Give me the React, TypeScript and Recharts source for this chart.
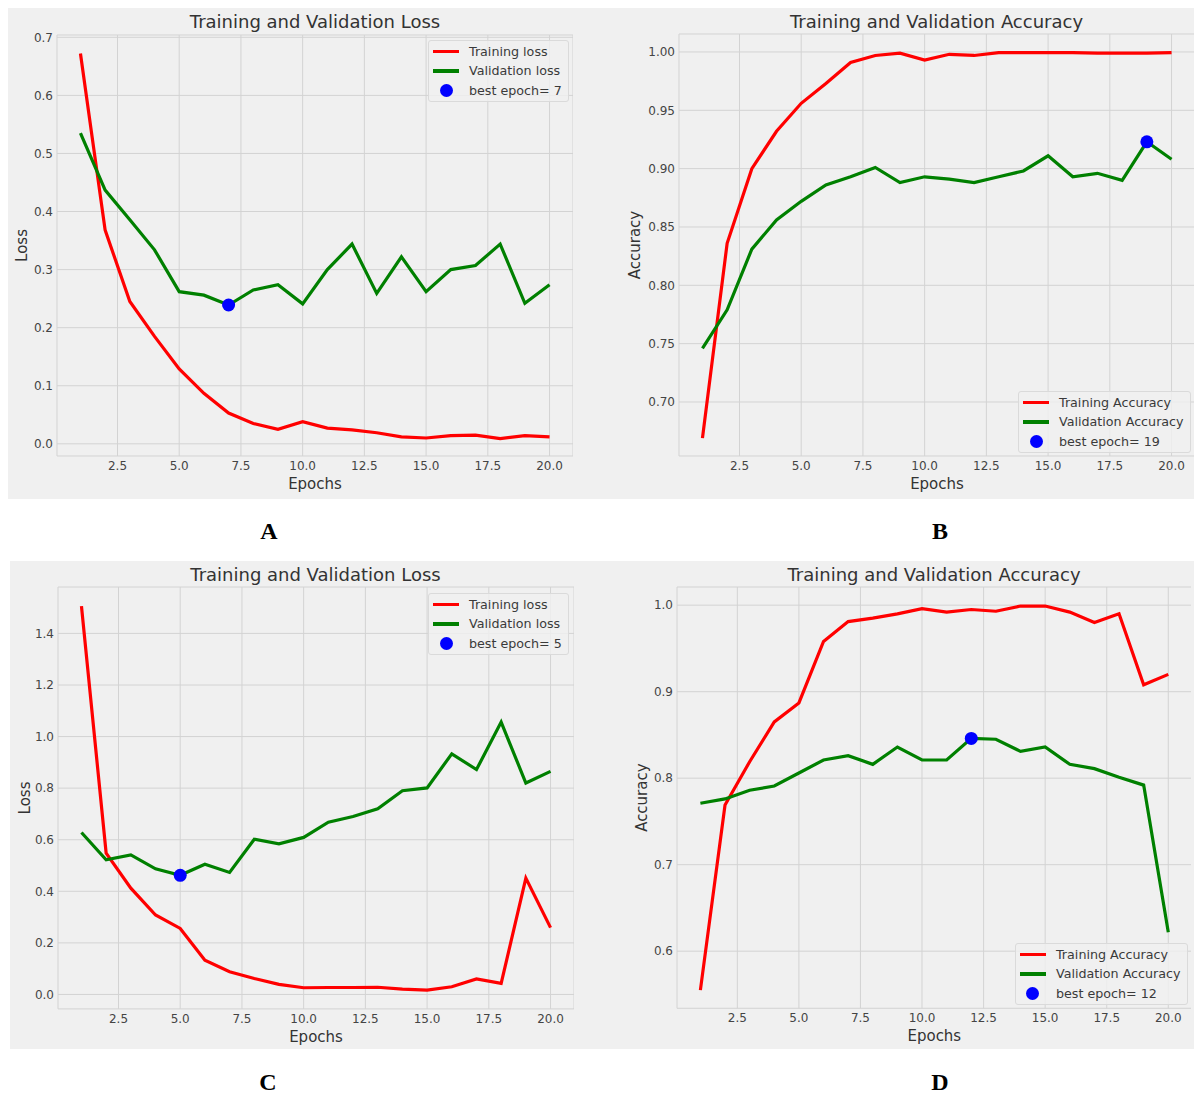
import React from 'react';
import { ComposedChart, Line, Scatter, XAxis, YAxis, CartesianGrid, Legend } from 'recharts';

const epochs = [1, 2, 3, 4, 5, 6, 7, 8, 9, 10, 11, 12, 13, 14, 15, 16, 17, 18, 19, 20];
const epochTicks = [2.5, 5, 7.5, 10, 12.5, 15, 17.5, 20];

// A - loss, first model
const trainLossA = [0.672, 0.368, 0.245, 0.185, 0.129, 0.087, 0.053, 0.035, 0.025, 0.038, 0.027, 0.024, 0.019, 0.012, 0.010, 0.014, 0.015, 0.009, 0.014, 0.012];
const valLossA = [0.535, 0.437, 0.386, 0.334, 0.262, 0.256, 0.239, 0.265, 0.274, 0.241, 0.300, 0.344, 0.259, 0.322, 0.262, 0.300, 0.307, 0.344, 0.242, 0.274];
const bestEpochA = 7;
const lossTicksA = [0, 0.1, 0.2, 0.3, 0.4, 0.5, 0.6, 0.7];

// B - accuracy, first model
const trainAccB = [0.669, 0.836, 0.900, 0.932, 0.956, 0.973, 0.991, 0.997, 0.999, 0.993, 0.998, 0.997, 0.9995, 0.9995, 0.9995, 0.9995, 0.999, 0.999, 0.999, 0.9995];
const valAccB = [0.746, 0.779, 0.831, 0.856, 0.872, 0.886, 0.893, 0.901, 0.888, 0.893, 0.891, 0.888, 0.893, 0.898, 0.911, 0.893, 0.896, 0.890, 0.923, 0.908];
const bestEpochB = 19;
const accTicksB = [0.7, 0.75, 0.8, 0.85, 0.9, 0.95, 1.0];

// C - loss, second model
const trainLossC = [1.506, 0.548, 0.412, 0.308, 0.256, 0.133, 0.088, 0.062, 0.039, 0.026, 0.027, 0.027, 0.028, 0.021, 0.017, 0.030, 0.060, 0.043, 0.451, 0.259];
const valLossC = [0.628, 0.522, 0.541, 0.487, 0.462, 0.505, 0.473, 0.602, 0.584, 0.609, 0.668, 0.690, 0.720, 0.790, 0.801, 0.933, 0.872, 1.056, 0.820, 0.865];
const bestEpochC = 5;
const lossTicksC = [0, 0.2, 0.4, 0.6, 0.8, 1.0, 1.2, 1.4];

// D - accuracy, second model
const trainAccD = [0.555, 0.769, 0.819, 0.865, 0.887, 0.958, 0.981, 0.985, 0.990, 0.996, 0.992, 0.995, 0.993, 0.999, 0.999, 0.992, 0.980, 0.990, 0.908, 0.920];
const valAccD = [0.771, 0.776, 0.786, 0.791, 0.806, 0.821, 0.826, 0.816, 0.836, 0.821, 0.821, 0.846, 0.845, 0.831, 0.836, 0.816, 0.811, 0.801, 0.792, 0.622];
const bestEpochD = 12;
const accTicksD = [0.6, 0.7, 0.8, 0.9, 1.0];

const FONT = '"DejaVu Sans", Verdana, sans-serif';
const Y_AXIS_W = 56;
const X_AXIS_H = 44;
const TOP_PAD = 12; // room for the top tick label

interface PlotBox {
  left: number;
  top: number;
  right: number;
  bottom: number;
}

interface PanelProps {
  plot: PlotBox;
  yDomain: [number, number];
  yTicks: number[];
  yDigits: number;
  train: number[];
  val: number[];
  bestEpoch: number;
  names: [string, string];
  title: string;
  yLabel: string;
  titleY: number;
  yLabelX: number;
  xLabelY: number;
  legendPos: { left: number; top: number };
}

const LegendBox = ({ payload, order }: any) => {
  const items = [...(payload || [])].sort(
    (a: any, b: any) => order.indexOf(a.value) - order.indexOf(b.value)
  );
  return (
    <div
      style={{
        background: 'rgba(240,240,240,0.8)',
        border: '1px solid #dadada',
        borderRadius: 3,
        padding: '1px 6px 1px 4px',
        fontFamily: FONT,
        fontSize: 12.7,
        color: '#3a3a3a',
        whiteSpace: 'nowrap',
      }}
    >
      {items.map((it: any) => (
        <div key={it.value} style={{ display: 'flex', alignItems: 'center', height: 19.3 }}>
          <span style={{ width: 26, display: 'flex', justifyContent: 'center', alignItems: 'center' }}>
            {it.type === 'circle' ? (
              <span style={{ width: 13, height: 13, borderRadius: '50%', background: it.color }} />
            ) : (
              <span style={{ width: 26, height: 3.2, background: it.color }} />
            )}
          </span>
          <span style={{ marginLeft: 10 }}>{it.value}</span>
        </div>
      ))}
    </div>
  );
};

const Panel: React.FC<PanelProps> = ({
  plot,
  yDomain,
  yTicks,
  yDigits,
  train,
  val,
  bestEpoch,
  names,
  title,
  yLabel,
  titleY,
  yLabelX,
  xLabelY,
  legendPos,
}) => {
  const chartLeft = plot.left - Y_AXIS_W;
  const chartTop = plot.top - TOP_PAD;
  const width = plot.right - plot.left + Y_AXIS_W;
  const height = plot.bottom - plot.top + X_AXIS_H + TOP_PAD;
  const rows = epochs.map((e, i) => ({ epoch: e, train: train[i], val: val[i] }));
  const best = [{ epoch: bestEpoch, val: val[bestEpoch - 1] }];
  const bestName = `best epoch= ${bestEpoch}`;
  const centerX = (plot.left + plot.right) / 2;

  return (
    <>
      <div
        style={{
          position: 'absolute',
          left: centerX - 300,
          top: titleY - 11,
          width: 600,
          lineHeight: '22px',
          textAlign: 'center',
          fontFamily: FONT,
          fontSize: 18,
          color: '#333',
        }}
      >
        {title}
      </div>
      <div style={{ position: 'absolute', left: chartLeft, top: chartTop }}>
        <ComposedChart
          width={width}
          height={height}
          data={rows}
          margin={{ top: TOP_PAD, right: 0, bottom: 0, left: 0 }}
          style={{ fontFamily: FONT }}
        >
          <CartesianGrid stroke="#d3d3d3" strokeWidth={1} />
          <XAxis
            dataKey="epoch"
            type="number"
            domain={[0.05, 20.95]}
            ticks={epochTicks}
            interval={0}
            allowDataOverflow
            height={X_AXIS_H}
            axisLine={false}
            tickLine={false}
            tickSize={0}
            tickMargin={5.5}
            tick={{ fill: '#444', fontSize: 12 }}
            tickFormatter={(v: number) => v.toFixed(1)}
            label={{
              value: 'Epochs',
              position: 'insideTop',
              offset: xLabelY - plot.bottom - 5.5,
              fill: '#333',
              fontSize: 15,
            }}
          />
          <YAxis
            type="number"
            domain={yDomain}
            ticks={yTicks}
            interval={0}
            allowDataOverflow
            width={Y_AXIS_W}
            axisLine={false}
            tickLine={false}
            tickSize={0}
            tickMargin={4}
            tick={{ fill: '#444', fontSize: 12 }}
            tickFormatter={(v: number) => v.toFixed(yDigits)}
            label={{
              value: yLabel,
              angle: -90,
              position: 'insideLeft',
              offset: yLabelX - chartLeft,
              textAnchor: 'middle',
              fill: '#333',
              fontSize: 15,
            }}
          />
          <Scatter
            data={best}
            dataKey="val"
            name={bestName}
            fill="#0000ff"
            legendType="circle"
            isAnimationActive={false}
            shape={(p: any) => <circle cx={p.cx} cy={p.cy} r={6.5} fill="#0000ff" />}
          />
          <Line
            type="linear"
            dataKey="train"
            name={names[0]}
            stroke="#ff0000"
            strokeWidth={3.2}
            dot={false}
            activeDot={false}
            legendType="line"
            isAnimationActive={false}
          />
          <Line
            type="linear"
            dataKey="val"
            name={names[1]}
            stroke="#008000"
            strokeWidth={3.2}
            dot={false}
            activeDot={false}
            legendType="line"
            isAnimationActive={false}
          />
          <Legend
            layout="vertical"
            align="center"
            verticalAlign="middle"
            wrapperStyle={{ left: legendPos.left - chartLeft, top: legendPos.top - chartTop, width: 'auto' }}
            content={(props: any) => (
              <LegendBox payload={props.payload} order={[names[0], names[1], bestName]} />
            )}
          />
        </ComposedChart>
      </div>
    </>
  );
};

const letterStyle: React.CSSProperties = {
  position: 'absolute',
  width: 40,
  textAlign: 'center',
  lineHeight: '28px',
  fontFamily: '"Liberation Serif", "Times New Roman", serif',
  fontWeight: 'bold',
  fontSize: 24,
  color: '#000',
};

const App: React.FC = () => {
  return (
    <div
      style={{
        position: 'absolute',
        left: 0,
        top: 0,
        width: 1194,
        height: 1095,
        overflow: 'hidden',
        background: '#ffffff',
      }}
    >
      <div style={{ position: 'absolute', left: 8, top: 8, width: 1186, height: 491, background: '#f0f0f0' }} />
      <div style={{ position: 'absolute', left: 10, top: 561, width: 1184, height: 488, background: '#f0f0f0' }} />

      <Panel
        plot={{ left: 57, top: 35, right: 573, bottom: 456 }}
        yDomain={[-0.021, 0.704]}
        yTicks={lossTicksA}
        yDigits={1}
        train={trainLossA}
        val={valLossA}
        bestEpoch={bestEpochA}
        names={['Training loss', 'Validation loss']}
        title="Training and Validation Loss"
        yLabel="Loss"
        titleY={22}
        yLabelX={22}
        xLabelY={484}
        legendPos={{ left: 428, top: 40 }}
      />
      <Panel
        plot={{ left: 678.5, top: 34, right: 1194.5, bottom: 456 }}
        yDomain={[0.6537, 1.0154]}
        yTicks={accTicksB}
        yDigits={2}
        train={trainAccB}
        val={valAccB}
        bestEpoch={bestEpochB}
        names={['Training Accuracy', 'Validation Accuracy']}
        title="Training and Validation Accuracy"
        yLabel="Accuracy"
        titleY={22}
        yLabelX={634}
        xLabelY={484}
        legendPos={{ left: 1018, top: 391 }}
      />
      <Panel
        plot={{ left: 57.5, top: 586.5, right: 573.5, bottom: 1008.4 }}
        yDomain={[-0.056, 1.58]}
        yTicks={lossTicksC}
        yDigits={1}
        train={trainLossC}
        val={valLossC}
        bestEpoch={bestEpochC}
        names={['Training loss', 'Validation loss']}
        title="Training and Validation Loss"
        yLabel="Loss"
        titleY={575}
        yLabelX={24}
        xLabelY={1036}
        legendPos={{ left: 428, top: 593 }}
      />
      <Panel
        plot={{ left: 676.7, top: 586.7, right: 1191.4, bottom: 1008 }}
        yDomain={[0.534, 1.021]}
        yTicks={accTicksD}
        yDigits={1}
        train={trainAccD}
        val={valAccD}
        bestEpoch={bestEpochD}
        names={['Training Accuracy', 'Validation Accuracy']}
        title="Training and Validation Accuracy"
        yLabel="Accuracy"
        titleY={575}
        yLabelX={641}
        xLabelY={1036}
        legendPos={{ left: 1015, top: 943 }}
      />

      <div style={{ ...letterStyle, left: 249, top: 517 }}>A</div>
      <div style={{ ...letterStyle, left: 920, top: 517 }}>B</div>
      <div style={{ ...letterStyle, left: 248, top: 1068 }}>C</div>
      <div style={{ ...letterStyle, left: 920, top: 1068 }}>D</div>
    </div>
  );
};

export default App;
